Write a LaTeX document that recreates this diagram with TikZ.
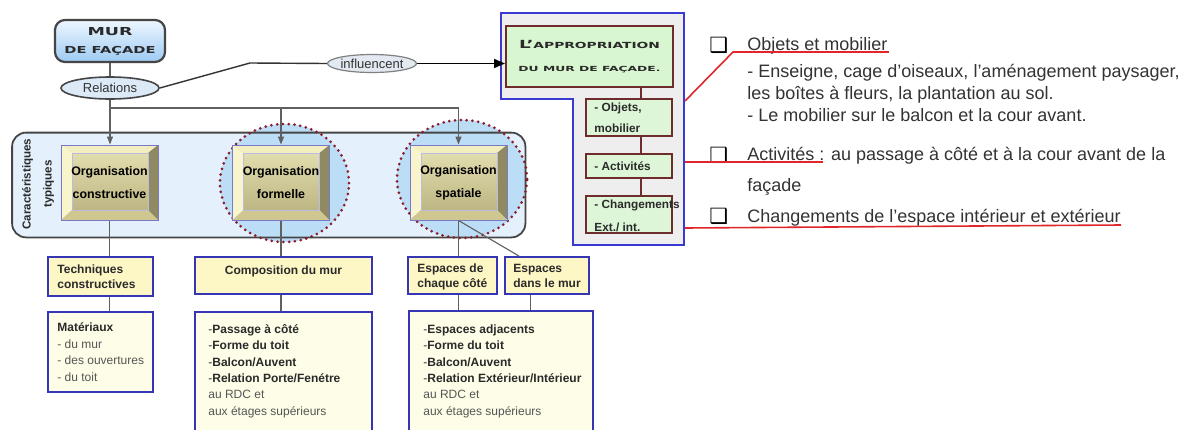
\documentclass[tikz,border=0pt]{standalone}
\usepackage{fontspec}
\usepackage{graphicx}
\setmainfont{Liberation Sans}
\newfontfamily\dvs{DejaVu Sans}
\usetikzlibrary{calc,arrows.meta,fit,shapes.geometric}
\definecolor{lnk}{HTML}{606060}
\definecolor{txt}{HTML}{2A2A2A}
\definecolor{rtx}{HTML}{333333}
\definecolor{gtxt}{HTML}{555555}
\definecolor{ybord}{HTML}{3535B5}
\definecolor{yfill}{HTML}{FDF7C6}
\definecolor{yfill2}{HTML}{FEFDE8}
\definecolor{panelb}{HTML}{3A3AD0}
\definecolor{panelf}{HTML}{EEEEEE}
\definecolor{brn}{HTML}{6E2C2C}
\definecolor{grn}{HTML}{D8F6D0}
\definecolor{grn2}{HTML}{DEF6D8}
\definecolor{redl}{HTML}{E0262A}
\definecolor{cfill}{HTML}{BCDDF6}
\definecolor{cdot}{HTML}{8A1C2C}
\definecolor{rfill}{HTML}{E4F1FC}
\definecolor{rbord}{HTML}{454545}
\definecolor{bevL}{HTML}{F8F4CC}
\definecolor{bevT}{HTML}{F3EEC0}
\definecolor{bevR}{HTML}{8F8A62}
\definecolor{bevB}{HTML}{CFC78F}
\definecolor{faceT}{HTML}{E2DDAE}
\definecolor{faceB}{HTML}{BDB684}
\definecolor{orge}{HTML}{7A78C8}
\definecolor{murT}{HTML}{EEF6FF}
\definecolor{murB}{HTML}{9DCBF3}
\definecolor{relf}{HTML}{DCEAF8}
\definecolor{inff}{HTML}{E2E9F1}

\newcommand\lft[1]{\begin{tabular}[t]{@{}l@{}}#1\end{tabular}}

\tikzset{
  lnk/.style={draw=lnk, line width=0.55pt},
  arrg/.style={lnk, -{Triangle[length=4pt,width=3pt]}},
  ybox/.style={draw=ybord, line width=0.9pt, fill=yfill, inner sep=0pt},
  ybox2/.style={ybox, fill=yfill2},
  btxt/.style={inner sep=0pt, anchor=base west, text=txt},
  rtxt/.style={inner sep=0pt, anchor=base west, text=rtx, font=\fontsize{9}{11}\selectfont},
  cbx/.style={inner sep=0pt, anchor=base west, text=black, font=\dvs\bfseries\fontsize{10.5}{11}\selectfont},
  ptxt/.style={inner sep=0pt, anchor=base west, text=txt},
  sbox/.style={draw=brn, line width=0.7pt, fill=grn2, minimum width=43pt, inner sep=0pt},
  circ/.style={draw=cdot, line width=1.5pt, dash pattern=on 0pt off 2.9pt, line cap=round},
  redline/.style={draw=redl, line width=0.8pt},
  orgbox/.style={draw=orge, line width=0.5pt, inner sep=0pt, minimum width=48.5pt, minimum height=37.5pt,
    font=\fontsize{6.2}{11.5}\selectfont\bfseries, text=black, align=center,
    path picture={
      \path (path picture bounding box.north west) coordinate (q1)
            (path picture bounding box.north east) coordinate (q2)
            (path picture bounding box.south east) coordinate (q3)
            (path picture bounding box.south west) coordinate (q4);
      \path ($(q1)+(5.5pt,-4pt)$) coordinate (i1)
            ($(q2)+(-5pt,-4pt)$) coordinate (i2)
            ($(q3)+(-5pt,5pt)$) coordinate (i3)
            ($(q4)+(5.5pt,5pt)$) coordinate (i4);
      \fill[bevT] (q1) -- (q2) -- (i2) -- (i1) -- cycle;
      \fill[bevL] (q1) -- (i1) -- (i4) -- (q4) -- cycle;
      \fill[bevR] (q2) -- (q3) -- (i3) -- (i2) -- cycle;
      \fill[bevB] (q4) -- (i4) -- (i3) -- (q3) -- cycle;
      \shade[top color=faceT, bottom color=faceB] (i1) rectangle (i3);
      \draw[orge!50, line width=0.3pt] (i1) rectangle (i3);
    }},
}

\begin{document}
\begin{tikzpicture}[x=0.5pt,y=-0.5pt]
\path[use as bounding box] (0,0) rectangle (1189,429);
\clip (0,0) rectangle (1189,429);
\fill[white] (0,0) rectangle (1189,429);

% --- container "Caracteristiques typiques"
\node[fit={(12.5,133) (525,237)}, inner sep=0pt, rounded corners=7pt, fill=rfill] (carac) {};
\fill[cfill] (284.5,183) ellipse [x radius=32.25pt, y radius=29.5pt];
\fill[cfill] (462,179) ellipse [x radius=32.5pt, y radius=29.5pt];
\draw[rbord, line width=0.9pt, rounded corners=7pt] (carac.south west) rectangle (carac.north east);
\draw[circ] (284.5,183) ellipse [x radius=32.25pt, y radius=29.5pt];
\draw[circ] (462,179) ellipse [x radius=32.5pt, y radius=29.5pt];
\node[rotate=90, font=\fontsize{5.8}{10.5}\selectfont\bfseries, align=center, inner sep=0pt, text=txt] (captxt) at (38,184) {Caractéristiques\\typiques};

% --- top
\node[draw=rbord, line width=1.1pt, rounded corners=5pt, top color=murT, bottom color=murB,
      minimum width=55pt, minimum height=21pt, inner sep=0pt, align=center,
      font=\fontsize{5}{9}\selectfont, text=txt] (mur) at (110,41)
  {\resizebox{22.5pt}{\height}{\dvs\bfseries\fontsize{5.5}{6}\selectfont MUR}\\
   \resizebox{45.5pt}{\height}{\dvs\bfseries\fontsize{4.8}{6}\selectfont DE FAÇADE}};
\node[ellipse, draw=rbord, line width=0.8pt, fill=relf, minimum width=49pt, minimum height=11pt,
      inner sep=0pt, font=\fontsize{6.5}{8}\selectfont, text=rtx] (rel) at (110,88) {Relations};
\node[ellipse, draw=gray, line width=0.6pt, fill=inff, minimum width=42.5pt, minimum height=9pt,
      inner sep=0pt, font=\fontsize{6.5}{8}\selectfont, text=rtx] (infl) at (372,63.5) {influencent};

% --- appropriation panel
\draw[panelb, fill=panelf, line width=0.6pt] (501,13) -- (684,13) -- (684,245) -- (573,245) -- (573,99) -- (501,99) -- cycle;
\node[draw=brn, line width=1pt, fill=grn, minimum width=83.5pt, minimum height=30.5pt, inner sep=0pt,
      align=center, font=\fontsize{5}{11.5}\selectfont, text=txt] (app) at (589.5,56.5)
  {\resizebox{70.5pt}{\height}{\dvs\bfseries\fontsize{5.6}{6}\selectfont L’{\fontsize{4.2}{5}\selectfont APPROPRIATION}}\\
   \resizebox{71pt}{\height}{\dvs\bfseries\fontsize{3.5}{5}\selectfont DU MUR DE FAÇADE.}};
\node[sbox, minimum height=18.5pt] (obj) at (629,117.5) {};
\node[sbox, minimum height=12pt] (act) at (629,166) {};
\node[sbox, minimum height=18.5pt] (chg) at (629,214.5) {};
\coordinate (vx) at (641,0);
\draw[brn, line width=0.7pt] (app.south -| vx) -- (obj.north -| vx);
\draw[brn, line width=0.7pt] (obj.south -| vx) -- (act.north -| vx);
\draw[brn, line width=0.7pt] (act.south -| vx) -- (chg.north -| vx);
\node[ptxt, font=\fontsize{5.9}{10.5}\selectfont\bfseries] (objt) at (594,111) {\lft{- Objets,\\mobilier}};
\node[ptxt, font=\fontsize{5.9}{10.5}\selectfont\bfseries] (actt) at (594,170) {- Activités};
\node[ptxt, font=\fontsize{5.9}{11.5}\selectfont\bfseries] (chgt) at (594,208) {\lft{- Changements\\Ext./ int.}};

% --- connectors top
\coordinate (kink) at (250,63);
\draw[draw=rtx, line width=0.7pt] (rel.east) -- (kink) -- (infl.west);
\draw[black, line width=0.8pt, -{Triangle[length=5.5pt,width=4.5pt]}] (infl.east) -- (infl.east -| app.west);
\draw[lnk] (mur.south) -- (rel.north);

% --- organisation boxes
\node[orgbox] (orgC) at (109.5,182.5) {Organisation\\constructive};
\node[orgbox] (orgF) at (281,182.5) {Organisation\\formelle};
\node[orgbox] (orgS) at (458.5,182.5) {Organisation\\spatiale};
\coordinate (junc) at (110,108);
\draw[arrg] (rel.south) -- (rel.south |- orgC.north);
\draw[arrg] (junc) -| (orgF.north);
\draw[arrg] (junc) -| (orgS.north);

% --- yellow boxes
\node[ybox, fit={(48,257) (153,296)}] (tech) {};
\node[ybox2, fit={(48,312) (153,392)}] (mat) {};
\node[ybox, fit={(195,257) (372,294)}, font=\fontsize{6}{8}\selectfont\bfseries, text=txt] (comp) {Composition du mur};
\node[ybox2, fit={(195,312) (372,440)}] (pm) {};
\node[ybox, fit={(408,257) (497,294)}] (chq) {};
\node[ybox, fit={(505,257) (589,294)}] (dans) {};
\node[ybox2, fit={(409,311) (593,440)}] (pr) {};

\draw[lnk] (orgC.south) -- (orgC.south |- tech.north);
\draw[lnk] (tech.south -| orgC.south) -- (orgC.south |- mat.north);
\draw[lnk] (orgF.south) -- (orgF.south |- comp.north);
\draw[lnk] (comp.south -| orgF.south) -- (orgF.south |- pm.north);
\draw[lnk] (orgS.south) -- (orgS.south |- chq.north);
\draw[lnk] (orgS.south) -- ($(dans.north west)+(15,0)$);
\draw[lnk] (chq.south -| orgS.south) -- (orgS.south |- pr.north);
\draw[lnk] ($(dans.south west)+(26,0)$) coordinate (dd) -- (dd |- pr.north);

\node[btxt, font=\fontsize{6}{7.5}\selectfont\bfseries] (techt) at (57,273) {\lft{Techniques\\constructives}};
\node[btxt, font=\fontsize{6}{7.5}\selectfont\bfseries] (chqt) at (417,272) {\lft{Espaces de\\chaque côté}};
\node[btxt, font=\fontsize{6}{7.5}\selectfont\bfseries] (danst) at (513,272) {\lft{Espaces\\dans le mur}};
\node[btxt, font=\fontsize{6}{8.25}\selectfont] (matt) at (57,331.5)
  {\lft{\textbf{Matériaux}\\\textcolor{gtxt}{- du mur}\\\textcolor{gtxt}{- des ouvertures}\\\textcolor{gtxt}{- du toit}}};
\node[btxt, font=\fontsize{6}{8.15}\selectfont] (pmt) at (208,333.5)
  {\lft{-\textbf{Passage à côté}\\-\textbf{Forme du toit}\\-\textbf{Balcon/Auvent}\\-\textbf{Relation Porte/Fenétre}\\\textcolor{gtxt}{au RDC et}\\\textcolor{gtxt}{aux étages supérieurs}}};
\node[btxt, font=\fontsize{6}{8.15}\selectfont] (prt) at (423,333.5)
  {\lft{-\textbf{Espaces adjacents}\\-\textbf{Forme du toit}\\-\textbf{Balcon/Auvent}\\-\textbf{Relation Extérieur/Intérieur}\\\textcolor{gtxt}{au RDC et}\\\textcolor{gtxt}{aux étages supérieurs}}};

% --- right-hand text
\node[cbx] (c1) at (709,52) {❑};
\node[cbx] (c2) at (709,162) {❑};
\node[cbx] (c3) at (709,223) {❑};
\node[rtxt] (t1) at (747,50) {Objets et mobilier};
\node[rtxt] (t2) at (747,77) {- Enseigne, cage d’oiseaux, l’aménagement paysager,};
\node[rtxt] (t3) at (747,99) {les boîtes à fleurs, la plantation au sol.};
\node[rtxt] (t4) at (747,121) {- Le mobilier sur le balcon et la cour avant.};
\node[rtxt] (t5) at (747,160) {Activités : au passage à côté et à la cour avant de la};
\node[rtxt] (t6) at (747,191) {façade};
\node[rtxt] (t7) at (747,222) {Changements de l’espace intérieur et extérieur};

\coordinate (r1) at (685,101);
\coordinate (r2) at (685,162);
\coordinate (r3) at (685,228);
\draw[redline] (r1) -- (733,52) -- ($(t1.base east)+(1,2)$);
\draw[redline] (r2) -- ($(t5.base west)+(76,2)$);
\draw[redline] (r3) -- ($(t7.base east)+(0,3)$);
\end{tikzpicture}
\end{document}
